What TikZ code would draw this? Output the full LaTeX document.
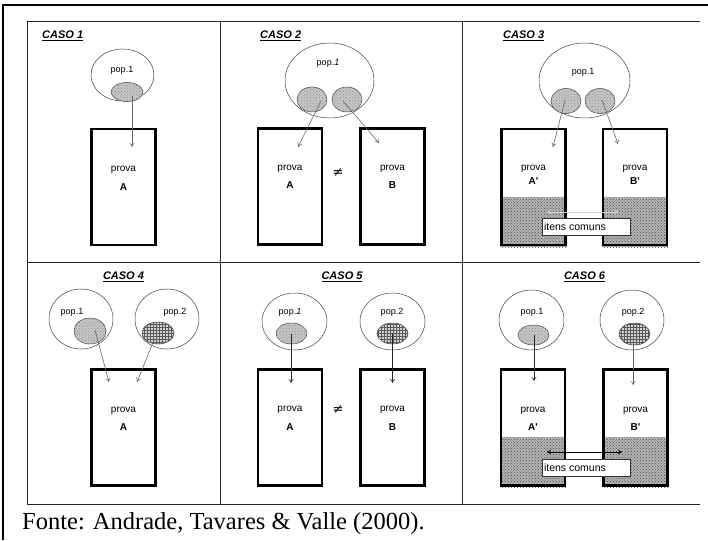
\documentclass[tikz,border=0pt]{standalone}
\usepackage{fontspec}
\setmainfont{Liberation Serif}
\newfontfamily\cf{Liberation Sans}
\newfontfamily\symf{DejaVu Sans}
\usetikzlibrary{shapes.geometric,arrows.meta,patterns}
\begin{document}
\begin{tikzpicture}[x=1pt,y=-1pt,
  pop/.style={ellipse,draw=black!75,line width=0.5pt,inner sep=0pt},
  sampa/.style={ellipse,draw=black!75,line width=0.5pt,inner sep=0pt,fill=gray!45,
     postaction={pattern=crosshatch dots,pattern color=gray!85}},
  sampb/.style={ellipse,draw=black!85,line width=0.5pt,inner sep=0pt,fill=gray!35,
     postaction={pattern=grid,pattern color=black!65}},
  testbox/.style={draw,line width=2.6pt,inner sep=0pt,minimum width=64pt,minimum height=116pt},
  shadefill/.style={fill=gray!60,postaction={pattern=crosshatch dots,pattern color=black!70}},
  ptxt/.style={font=\cf\fontsize{10}{12}\selectfont,inner sep=0pt},
  poptxt/.style={font=\cf\fontsize{9}{11}\selectfont,inner sep=0pt},
  btxt/.style={font=\cf\bfseries\fontsize{10}{12}\selectfont,inner sep=0pt},
  caso/.style={font=\cf\bfseries\itshape\fontsize{11}{13}\selectfont,inner sep=0pt},
  arr/.style={-{To[length=4pt,width=5pt]},line width=0.6pt,draw=gray!80!black},
  arrk/.style={-{To[length=4pt,width=5pt]},line width=0.6pt,draw=black!85},
  darr/.style={{To[length=4pt,width=5pt]}-{To[length=4pt,width=5pt]},line width=0.7pt},
  neq/.style={inner sep=0pt,font=\symf\fontsize{13}{15}\selectfont},
  itens/.style={draw=black!80,fill=white,line width=0.5pt,inner sep=0pt,minimum width=88pt,minimum height=17pt,font=\cf\fontsize{10.5}{12}\selectfont},
  grid line/.style={line width=0.8pt,draw=black!85}
]
\useasboundingbox (0,0) rectangle (708,540);
% outer frame
\draw[line width=1.6pt] (3,540) -- (3,5) -- (708,5);
% inner grid
\draw[grid line] (27,21.5) -- (700,21.5);
\draw[grid line] (27,262) -- (700,262);
\draw[grid line] (27,504) -- (700,504);
\draw[grid line] (27,21.5) -- (27,504);
\draw[grid line] (220,21.5) -- (220,504);
\draw[grid line] (462,21.5) -- (462,504);

%================ CASO 1
\node[caso,anchor=west] (k1) at (42,36) {\underline{CASO 1}};
\node[pop,minimum width=63pt,minimum height=52pt] (p1) at (122.5,75) {};
\node[poptxt] (p1t) at (122,70) {pop.1};
\node[sampa,minimum width=32pt,minimum height=19pt] (i1) at (127,92) {};
\node[testbox] (b1) at (123.5,187) {};
\node[ptxt] (b1p) at ([yshift=17pt]b1.center) {prova};
\node[btxt] (b1l) at (b1.center) {A};
\coordinate (t1) at (132,147);
\draw[arr] ([xshift=5pt,yshift=-4pt]i1.center) -- (t1);

%================ CASO 2
\node[caso,anchor=west] (k2) at (260,36) {\underline{CASO 2}};
\node[pop,minimum width=89pt,minimum height=75pt] (p2) at (329.5,80.5) {};
\node[poptxt] (p2t) at (328,63) {pop.\textit{1}};
\node[sampa,minimum width=30pt,minimum height=25pt] (i2a) at (312,99.5) {};
\node[sampa,minimum width=30pt,minimum height=25pt] (i2b) at (347,99.5) {};
\node[testbox] (b2a) at (290,186.5) {};
\node[testbox] (b2b) at (392.5,186.5) {};
\node[ptxt] (b2ap) at ([yshift=18pt]b2a.center) {prova};
\node[btxt] (b2al) at ([yshift=1pt]b2a.center) {A};
\node[ptxt] (b2bp) at ([yshift=18pt]b2b.center) {prova};
\node[btxt] (b2bl) at ([yshift=1pt]b2b.center) {B};
\node[neq] (ne2) at (338,173) {≠};
\coordinate (t2a) at (298,147);
\coordinate (t2b) at (379,143);
\draw[arr] ([xshift=9pt,yshift=-1.5pt]i2a.center) -- (t2a);
\draw[arr] ([xshift=-4pt,yshift=-1.5pt]i2b.center) -- (t2b);

%================ CASO 3
\node[caso,anchor=west] (k3) at (503,36) {\underline{CASO 3}};
\node[pop,minimum width=91pt,minimum height=75pt] (p3) at (584.5,80.5) {};
\node[poptxt] (p3t) at (583,72) {pop.1};
\node[sampa,minimum width=30pt,minimum height=25pt] (i3a) at (566,101) {};
\node[sampa,minimum width=30pt,minimum height=25pt] (i3b) at (600,101) {};
\fill[shadefill] (500,197) rectangle (567,247);
\fill[shadefill] (602,197) rectangle (668,247);
\node[testbox] (b3a) at (533.5,187) {};
\node[testbox] (b3b) at (635,187) {};
\node[ptxt] (b3ap) at ([yshift=18pt]b3a.center) {prova};
\node[btxt] (b3al) at ([yshift=6pt]b3a.center) {A'};
\node[ptxt] (b3bp) at ([yshift=18pt]b3b.center) {prova};
\node[btxt] (b3bl) at ([yshift=6pt]b3b.center) {B'};
\coordinate (t3a) at (553,147);
\coordinate (t3b) at (618,144);
\draw[arr] ([xshift=-1pt,yshift=1pt]i3a.center) -- (t3a);
\draw[arr] ([xshift=2pt,yshift=1pt]i3b.center) -- (t3b);
\coordinate (d3a) at (547,212);
\coordinate (d3b) at (618,212);
\draw[darr,draw=gray!35] (d3a) -- (d3b);
\node[itens] (c3) at (586,226.5) {\makebox[84pt][l]{itens comuns}};

%================ CASO 4
\node[caso] (k4) at (123.5,277) {\underline{CASO 4}};
\node[pop,minimum width=64pt,minimum height=60pt] (p4a) at (81,319) {};
\node[pop,minimum width=64pt,minimum height=60pt] (p4b) at (167,319) {};
\node[poptxt] (p4at) at (72,312) {pop.1};
\node[poptxt] (p4bt) at (175,312) {pop.2};
\node[sampa,minimum width=32pt,minimum height=26pt] (i4a) at (90,331) {};
\node[sampb,minimum width=32pt,minimum height=22pt] (i4b) at (158,333) {};
\node[testbox] (b4) at (123.5,427.5) {};
\node[ptxt] (b4p) at ([yshift=17pt]b4.center) {prova};
\node[btxt] (b4l) at (b4.center) {A};
\coordinate (t4a) at (109,382);
\coordinate (t4b) at (137,382);
\draw[arr] ([xshift=5pt,yshift=1pt]i4a.center) -- (t4a);
\draw[arr] ([xshift=-4pt,yshift=-7pt]i4b.center) -- (t4b);

%================ CASO 5
\node[caso] (k5) at (342,277) {\underline{CASO 5}};
\node[pop,minimum width=65pt,minimum height=57pt] (p5a) at (294.5,321.5) {};
\node[pop,minimum width=65pt,minimum height=57pt] (p5b) at (392.5,321.5) {};
\node[poptxt] (p5at) at (290,312) {pop.\textit{1}};
\node[poptxt] (p5bt) at (392,312) {pop.2};
\node[sampa,minimum width=31pt,minimum height=21pt] (i5a) at (291.5,333.5) {};
\node[sampb,minimum width=31pt,minimum height=21pt] (i5b) at (392.5,333.5) {};
\node[testbox] (b5a) at (290,427.5) {};
\node[testbox] (b5b) at (392.5,427.5) {};
\node[ptxt] (b5ap) at ([yshift=18pt]b5a.center) {prova};
\node[btxt] (b5al) at (b5a.center) {A};
\node[ptxt] (b5bp) at ([yshift=18pt]b5b.center) {prova};
\node[btxt] (b5bl) at (b5b.center) {B};
\node[neq] (ne5) at (338,410) {≠};
\coordinate (t5a) at (291,383);
\coordinate (t5b) at (392.5,383);
\draw[arrk] (i5a.center -| t5a) -- (t5a);
\draw[arrk] (i5b.center -| t5b) -- (t5b);

%================ CASO 6
\node[caso] (k6) at (584.5,277) {\underline{CASO 6}};
\node[pop,minimum width=65pt,minimum height=60pt] (p6a) at (531.5,320) {};
\node[pop,minimum width=64pt,minimum height=60pt] (p6b) at (632,320) {};
\node[poptxt] (p6at) at (532,312) {pop.1};
\node[poptxt] (p6bt) at (633,312) {pop.2};
\node[sampa,minimum width=31pt,minimum height=20pt] (i6a) at (533.5,335) {};
\node[sampb,minimum width=31pt,minimum height=22pt] (i6b) at (634.5,334) {};
\fill[shadefill] (500,437) rectangle (566,487);
\fill[shadefill] (603,437) rectangle (668,487);
\node[testbox] (b6a) at (533,427.5) {};
\node[testbox] (b6b) at (635.5,427.5) {};
\node[ptxt] (b6ap) at ([yshift=17pt]b6a.center) {prova};
\node[btxt] (b6al) at ([yshift=0pt]b6a.center) {A'};
\node[ptxt] (b6bp) at ([yshift=17pt]b6b.center) {prova};
\node[btxt] (b6bl) at ([yshift=0pt]b6b.center) {B'};
\coordinate (t6a) at (534,381);
\coordinate (t6b) at (633,385);
\draw[arrk] (i6a.center -| t6a) -- (t6a);
\draw[arr] (i6b.center -| t6b) -- (t6b);
\coordinate (d6a) at (547,452);
\coordinate (d6b) at (622,452);
\draw[darr,draw=black] (d6a) -- (d6b);
\node[itens] (c6) at (586,468) {\makebox[84pt][l]{itens comuns}};

%================ source
\node[anchor=base west,inner sep=0pt,font=\fontsize{24.5}{28}\selectfont] (src) at (22,529) {Fonte: Andrade, Tavares \& Valle (2000).};
\end{tikzpicture}
\end{document}
